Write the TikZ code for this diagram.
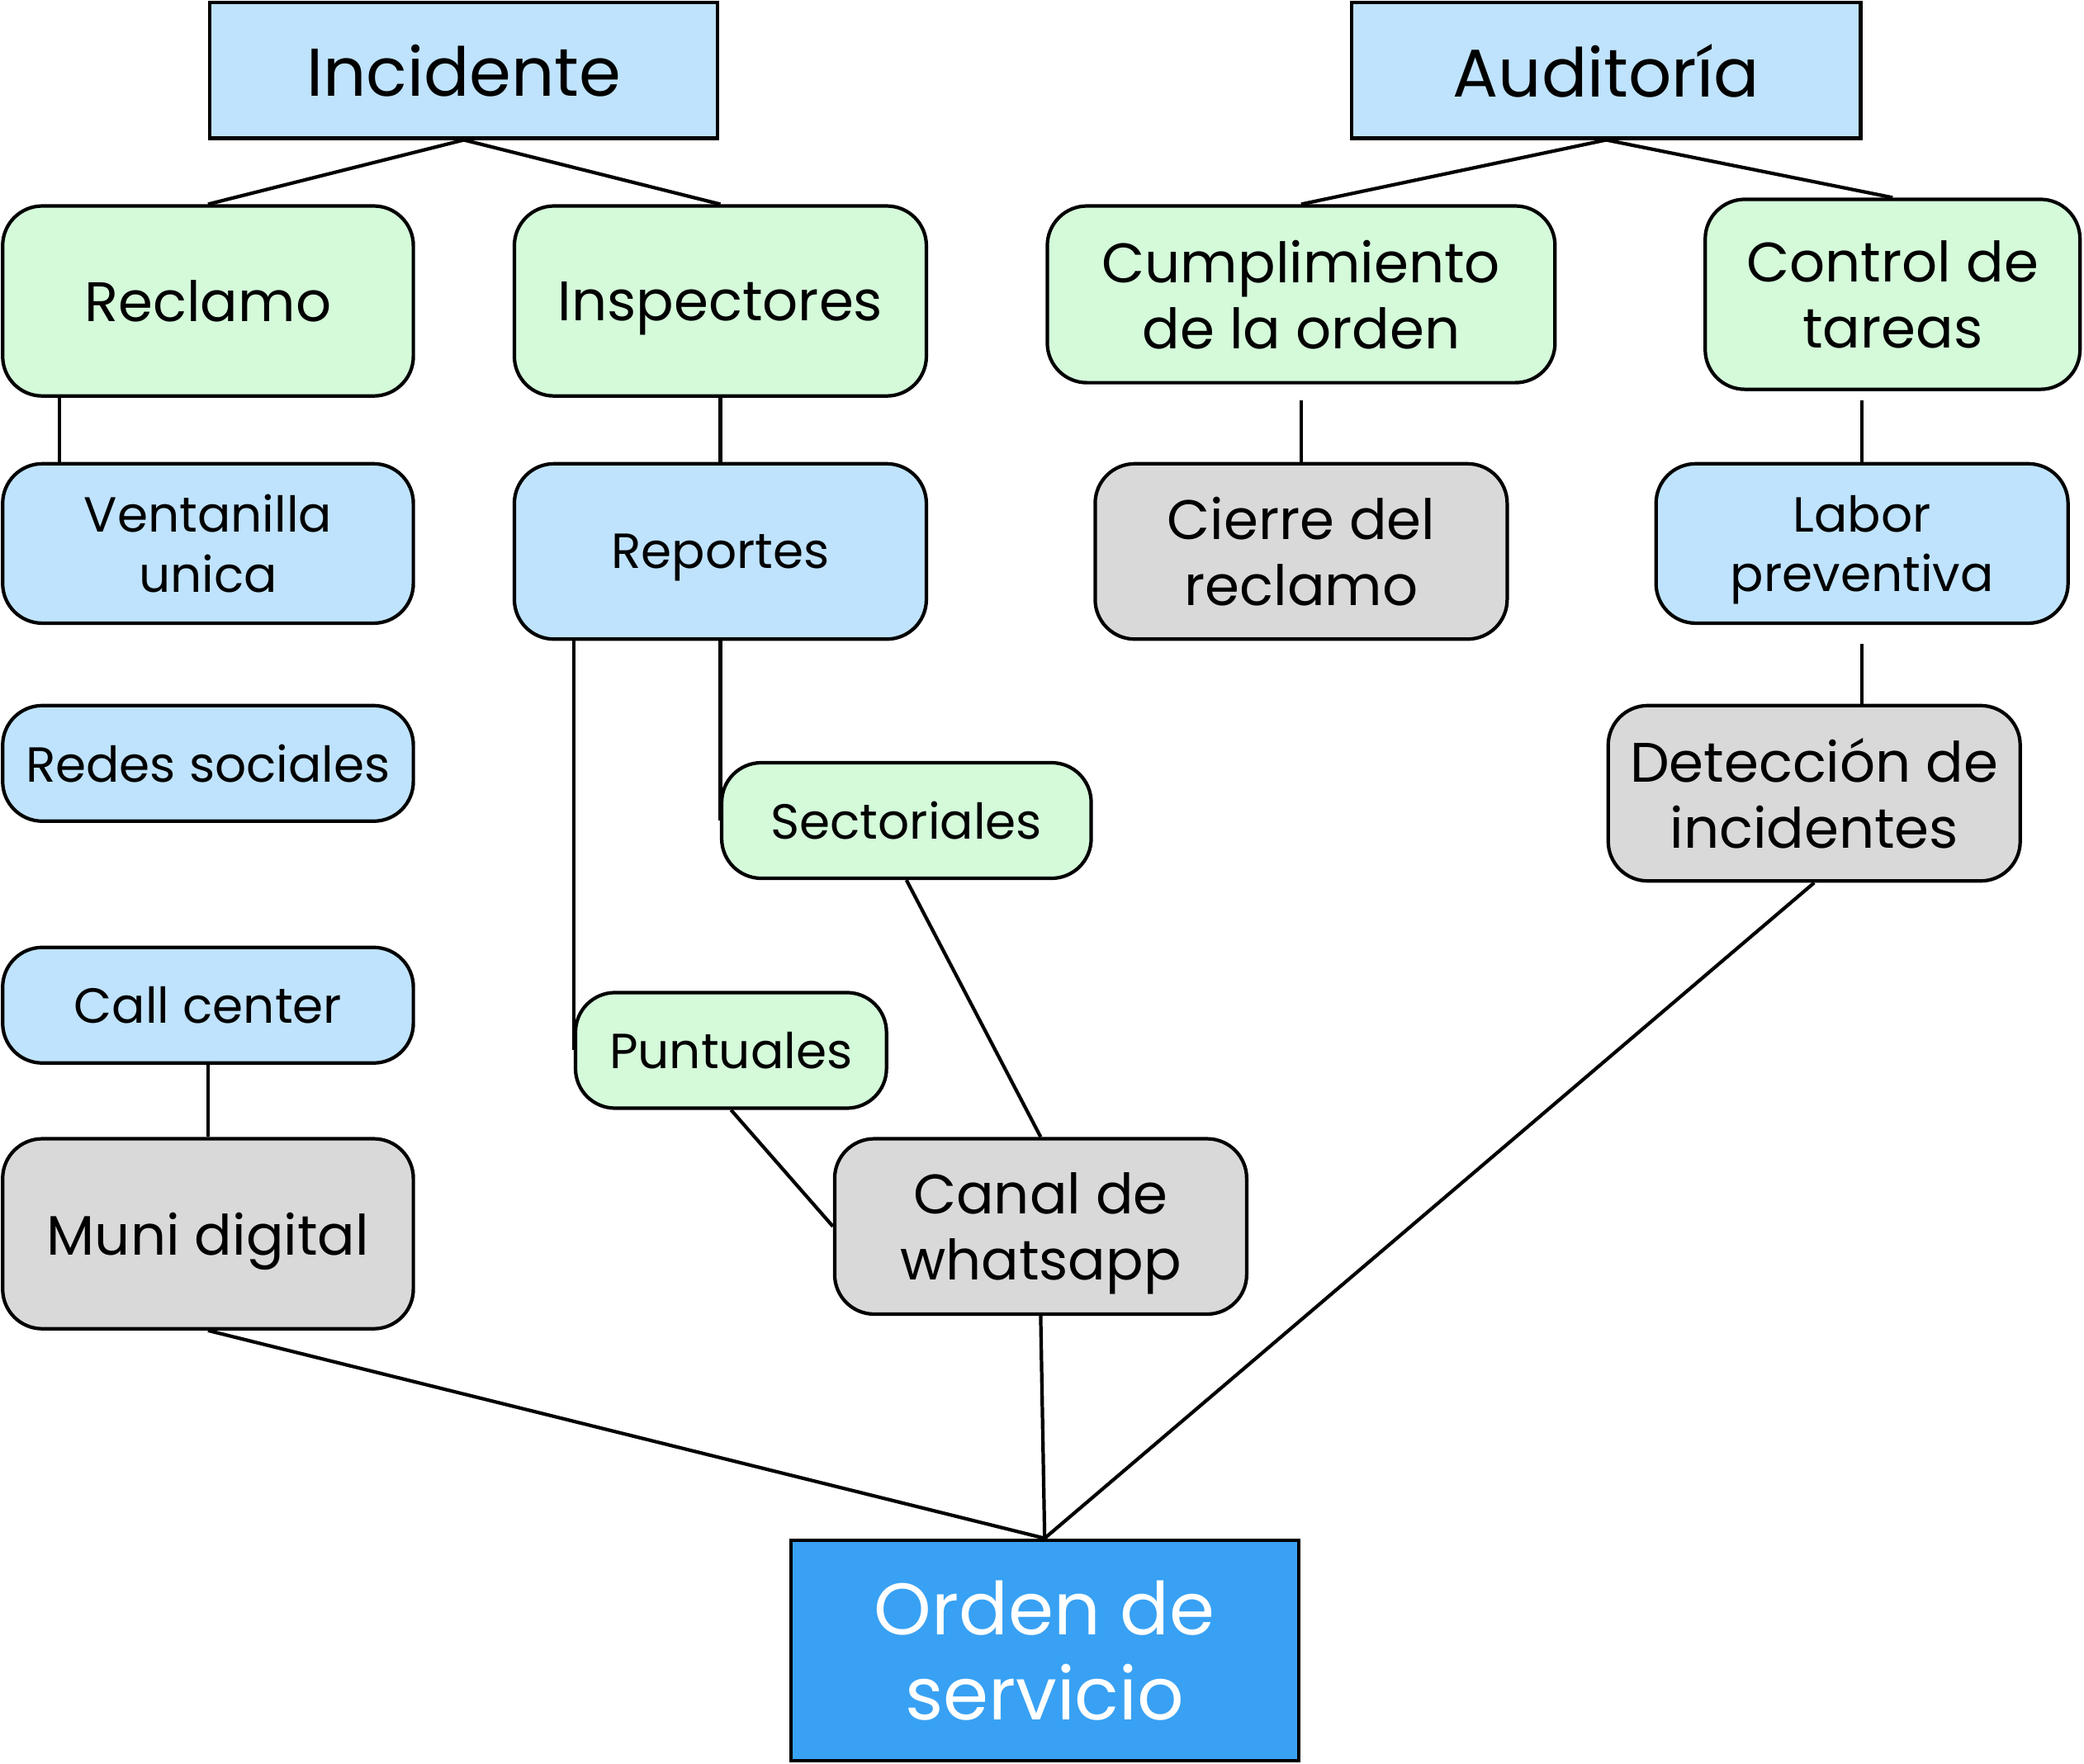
\documentclass[tikz,border=0pt]{standalone}
\usepackage{fontspec}
\setmainfont{Poppins}
\definecolor{lblue}{HTML}{BFE3FD}
\definecolor{lgreen}{HTML}{D4FADA}
\definecolor{lgray}{HTML}{D9D9D9}
\definecolor{dblue}{HTML}{38A1F3}
\tikzset{
  base/.style={draw=black, line width=1.2pt, align=center, inner sep=0pt, text=black, text depth=0pt},
  sz/.style 2 args={minimum width={#1*0.016097cm}, minimum height={#2*0.016097cm}},
  rbox/.style={base, rounded corners=0.48cm},
  bluebox/.style={rbox, fill=lblue},
  greenbox/.style={rbox, fill=lgreen},
  graybox/.style={rbox, fill=lgray},
  fbig/.style={font=\fontsize{23.3}{27}\selectfont},
  fmid/.style={font=\fontsize{19.2}{22.8}\selectfont},
  fsmall/.style={font=\fontsize{17}{20.6}\selectfont},
  conn/.style={draw=black, line width=1.2pt}
}
\begin{document}
\begin{tikzpicture}[x=0.016097cm, y=-0.016097cm]
\useasboundingbox (0,0) rectangle (1568,1327);
% top level
\node[base, fill=lblue, sz={382}{102}, fbig] (inc) at (349,53) {Incidente};
\node[base, fill=lblue, sz={383}{102}, fbig] (aud) at (1208.5,53) {Auditoría};
% second level
\node[greenbox, sz={309}{143}, fmid] (recl) at (156.5,226.5) {Reclamo};
\node[greenbox, sz={310}{143}, fmid] (insp) at (542,226.5) {Inspectores};
\node[greenbox, sz={382}{133}, fmid] (cump) at (979,221.5) {Cumplimiento\\de la orden};
\node[greenbox, sz={282}{143}, fmid] (ctrl) at (1424,221.5) {Control de\\tareas};
% third level
\node[bluebox, sz={309}{120}, fsmall] (vent) at (156.5,409) {Ventanilla\\unica};
\node[bluebox, sz={310}{132}, fsmall] (rep) at (542,415) {Reportes};
\node[graybox, sz={310}{132}, fmid] (cier) at (979,415) {Cierre del\\reclamo};
\node[bluebox, sz={310}{120}, fsmall] (lab) at (1401,409) {Labor\\preventiva};
% fourth
\node[bluebox, sz={309}{87}, fsmall] (redes) at (156.5,574.5) {Redes sociales};
\node[greenbox, sz={278}{87}, fsmall] (sect) at (682,617.5) {Sectoriales};
\node[graybox, sz={310}{132}, fmid] (det) at (1365,597) {Detección de\\incidentes};
\node[bluebox, sz={309}{87}, fsmall] (call) at (156.5,756.5) {Call center};
\node[greenbox, sz={234}{87}, fsmall] (punt) at (550,790.5) {Puntuales};
\node[graybox, sz={309}{143}, fmid] (muni) at (156.5,928.5) {Muni digital};
\node[graybox, sz={310}{132}, fmid] (canal) at (783,923) {Canal de\\whatsapp};
\node[base, fill=dblue, sz={382}{166}, text=white, font=\fontsize{25.2}{29.3}\selectfont] (orden) at (786,1242) {Orden de\\servicio};
% connectors
\draw[conn] (inc.south) -- (recl.north);
\draw[conn] (inc.south) -- (insp.north);
\draw[conn] (aud.south) -- (cump.north);
\draw[conn] (aud.south) -- (ctrl.north);
\draw[conn] ([xshift={44*0.016097cm}]recl.south west) -- ([xshift={44*0.016097cm}]vent.north west);
\draw[conn] (insp.south) -- (rep.north);
\draw[conn] ([yshift={-12*0.016097cm}]cump.south) -- (cier.north);
\draw[conn] ([yshift={-7*0.016097cm}]ctrl.south -| lab.north) -- (lab.north);
\draw[conn] ([yshift={-14*0.016097cm}]lab.south) -- (lab.south |- det.north);
\draw[conn] (rep.south) -- (rep.south |- sect.west);
\draw[conn] (rep.south -| punt.west) -- (punt.west);
\draw[conn] (call.south) -- (muni.north);
\draw[conn] (punt.south) -- (canal.west);
\draw[conn] (sect.south) -- (canal.north);
\draw[conn] (canal.south) -- (orden.north);
\draw[conn] (muni.south) -- (orden.north);
\draw[conn] (det.south) -- (orden.north);
\end{tikzpicture}
\end{document}
